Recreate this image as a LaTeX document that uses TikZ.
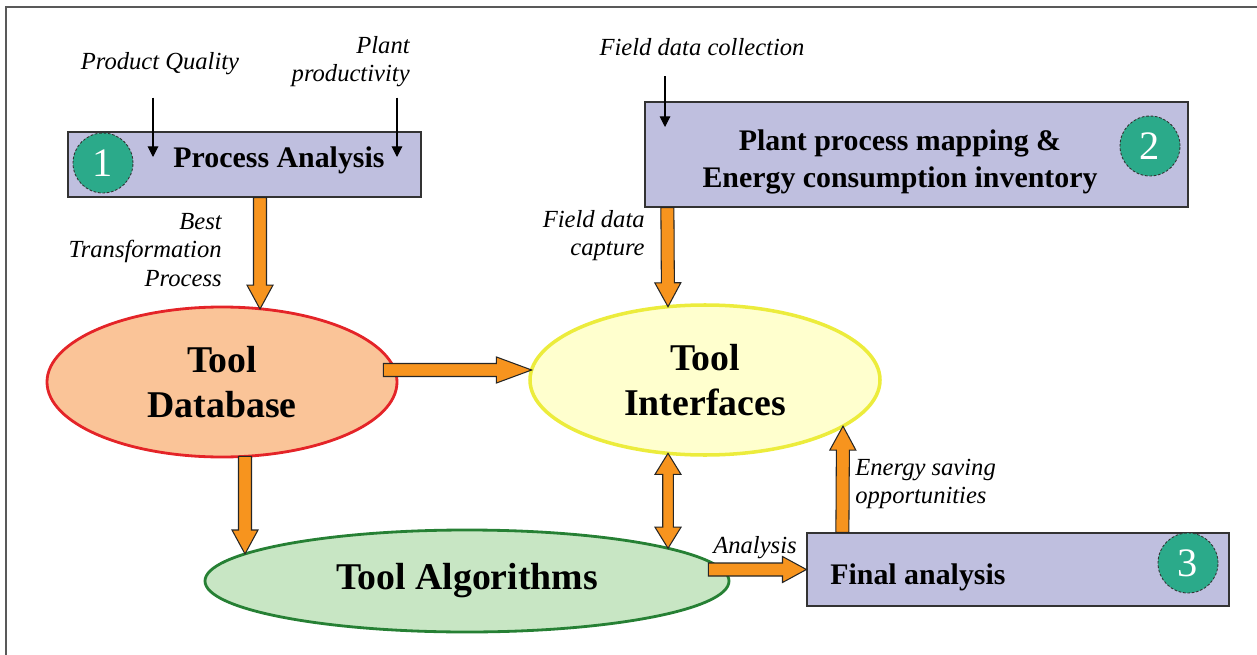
\documentclass[tikz,border=0pt]{standalone}
\usepackage{fontspec}
\setmainfont{Liberation Serif}
\usetikzlibrary{positioning,calc,arrows.meta,shapes.geometric}

\definecolor{boxblue}{RGB}{191,191,223}
\definecolor{numteal}{RGB}{43,170,138}
\definecolor{arroworange}{RGB}{247,148,30}
\definecolor{dbfill}{RGB}{250,196,152}
\definecolor{dbline}{RGB}{228,36,40}
\definecolor{tifill}{RGB}{255,255,206}
\definecolor{tiline}{RGB}{236,236,60}
\definecolor{algfill}{RGB}{200,230,196}
\definecolor{algline}{RGB}{38,128,52}

\def\px{0.02cm}

\tikzset{
  stepbox/.style={rectangle, draw=black!80, line width=0.7pt, fill=boxblue, inner sep=0pt},
  numdisc/.style={circle, fill=numteal, draw=black!80, line width=0.5pt, dash pattern=on 1.5pt off 1pt,
    minimum size=60*\px, inner sep=0pt, text=white, font=\fontsize{23}{23}\selectfont},
  title/.style={inner sep=0pt, font=\bfseries\fontsize{17}{21}\selectfont, align=center},
  bigtitle/.style={inner sep=0pt, font=\bfseries\fontsize{21.5}{25.5}\selectfont, align=center},
  note/.style={inner sep=0pt, font=\itshape\fontsize{14}{16}\selectfont},
  blob/.style={ellipse, inner sep=0pt, line width=1.6pt},
  fatarrow/.style={fill=arroworange, draw=black!85, line width=0.6pt, line join=miter},
  inarrow/.style={-{Triangle[width=6pt,length=6pt]}, line width=0.6pt},
}

% block arrow from #2 to #3, head length #1
\newcommand{\fatarrow}[3][13.6pt]{%
  \coordinate (fa-n) at ($(#3)!#1!(#2)$);
  \draw[fatarrow] ($(#2)!3.7pt!90:(#3)$) -- ($(fa-n)!3.7pt!90:(#3)$) -- ($(fa-n)!7.4pt!90:(#3)$)
    -- (#3) -- ($(fa-n)!7.4pt!-90:(#3)$) -- ($(fa-n)!3.7pt!-90:(#3)$) -- ($(#2)!3.7pt!-90:(#3)$) -- cycle;}
% block arrow with a head at both ends
\newcommand{\dblarrow}[2]{%
  \coordinate (da-a) at ($(#1)!12pt!(#2)$);
  \coordinate (da-b) at ($(#2)!12pt!(#1)$);
  \draw[fatarrow] (#1) -- ($(da-a)!7.4pt!90:(#2)$) -- ($(da-a)!3pt!90:(#2)$) -- ($(da-b)!3pt!90:(#2)$)
    -- ($(da-b)!7.4pt!90:(#2)$) -- (#2) -- ($(da-b)!7.4pt!-90:(#2)$) -- ($(da-b)!3pt!-90:(#2)$)
    -- ($(da-a)!3pt!-90:(#2)$) -- ($(da-a)!7.4pt!-90:(#2)$) -- cycle;}

\begin{document}
\begin{tikzpicture}[x=\px, y=-\px]
\useasboundingbox (0,0) rectangle (1257,655);
\draw[black!65, line width=1.3pt] (1257,7) -- (6,7) -- (6,655);

% step 1
\node[stepbox, minimum width=353*\px, minimum height=65*\px] (pa) at (244.5,164.5) {};
\node[numdisc] (n1) at (103,163) {1};
\node[title] (pa-t) at (279,160) {Process Analysis};
\node[note] (pq) at (160,64) {Product Quality};
\node[note, align=right, anchor=east] (pp) at (410,62) {Plant\\productivity};
\coordinate (pq-in) at (153,157);
\coordinate (pp-in) at (397,157);
\draw[inarrow] ($(pq.south -| pq-in)+(0,22)$) -- (pq-in);
\draw[inarrow] ($(pp.south -| pp-in)+(0,10)$) -- (pp-in);

% step 2
\node[stepbox, minimum width=543*\px, minimum height=105*\px] (pm) at (916.5,154.5) {};
\node[numdisc] (n2) at (1150,146) {2};
\node[title] (pm-t) at (900,162) {Plant process mapping \&\\Energy consumption inventory};
\node[note] (fc) at (702,47) {Field data collection};
\coordinate (fc-in) at (665,127);
\draw[inarrow] ($(fc.south -| fc-in)+(0,20)$) -- (fc-in);

% tool parts
\node[bigtitle, blob, fill=dbfill, draw=dbline, minimum width=350*\px, minimum height=150*\px] (db) at (222,382) {Tool\\Database};
\node[bigtitle, blob, fill=tifill, draw=tiline, line width=2pt, minimum width=350*\px, minimum height=150*\px] (ti) at (705,380) {Tool\\Interfaces};
\node[bigtitle, blob, fill=algfill, draw=algline, minimum width=524*\px, minimum height=102*\px] (alg) at (467,581) {Tool Algorithms};

% step 3
\node[stepbox, minimum width=422*\px, minimum height=73*\px] (fa) at (1018,569.5) {};
\node[numdisc] (n3) at (1188,563) {3};
\node[title, anchor=west] (fa-t) at (830,577) {Final analysis};

% arrow labels
\node[note, align=right, anchor=east] (bt) at (222,250) {Best\\Transformation\\Process};
\node[note, align=right, anchor=east] (fd) at (645,236) {Field data\\capture};
\node[note] (an) at (755,548) {Analysis};
\node[note, align=left, anchor=west] (es) at (855,484) {Energy saving\\opportunities};

% arrow ends on the boxes and ellipses
\coordinate (pa-out) at ($(pa.south)+(15.5,0)$);
\coordinate (db-in) at ($(db.center)+(38,-73)$);
\coordinate (db-out) at ($(db.east)+(-15,-12)$);
\coordinate (db-down) at ($(db.center)+(23,74.3)$);
\coordinate (ti-left) at ($(ti.center)+(-173.4,-10)$);
\coordinate (ti-top) at ($(ti.center)+(-37,-73.3)$);
\coordinate (ti-bot) at ($(ti.center)+(-37,73.3)$);
\coordinate (ti-right) at ($(ti.center)+(138,46.2)$);
\coordinate (pm-out) at ($(pm.south west)+(23,0)$);
\coordinate (alg-in) at ($(alg.center)+(-222,-27.1)$);
\coordinate (alg-top) at ($(alg.center)+(201,-32.7)$);
\coordinate (alg-out) at ($(fa.west -| alg.east)+(-22,0)$);
\coordinate (fa-out) at ($(fa.north west)+(36,0)$);

% orange arrows
\fatarrow{pa-out}{db-in}
\fatarrow[20pt]{db-out}{ti-left}
\fatarrow{pm-out}{ti-top}
\fatarrow{db-down}{alg-in}
\dblarrow{ti-bot}{alg-top}
\fatarrow{alg-out}{fa.west}
\fatarrow{fa-out}{ti-right}
\end{tikzpicture}
\end{document}
